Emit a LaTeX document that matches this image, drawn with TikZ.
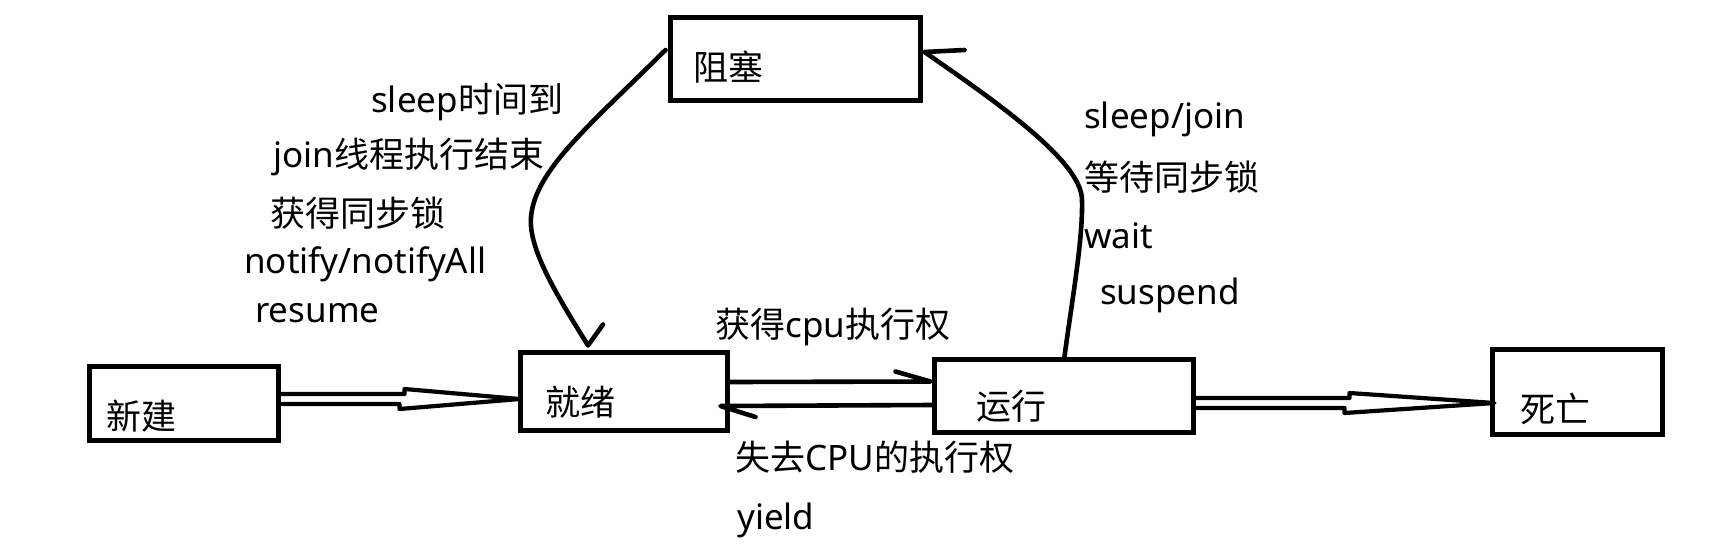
\documentclass[tikz,border=0pt]{standalone}
\usepackage{fontspec}
\setmainfont{Noto Sans}
\newfontfamily\cjk{Noto Sans CJK SC}
\newcommand\zhtxt[1]{{\cjk #1}}
\usetikzlibrary{calc}
\begin{document}
\begin{tikzpicture}[x=1pt,y=-1pt,
  box/.style={draw, line width=5pt, inner sep=0pt, rectangle},
  lbl/.style={inner sep=0pt, anchor=base west, font=\fontsize{35}{42}\selectfont},
  con/.style={line width=4.6pt, line cap=round, line join=round},
  hol/.style={line width=4.2pt, line cap=round, line join=round}]
\useasboundingbox (0,0) rectangle (1734,555);
\fill[white] (0,0) rectangle (1734,555);

% boxes
\node[box, minimum width=189pt, minimum height=74pt] (xinjian) at (183.5,403) {};
\node[box, minimum width=207pt, minimum height=78pt] (jiuxu) at (623.5,391) {};
\node[box, minimum width=259pt, minimum height=73pt] (yunxing) at (1063.5,395.5) {};
\node[box, minimum width=170pt, minimum height=85pt] (siwang) at (1577,391.5) {};
\node[box, minimum width=250pt, minimum height=83pt] (zuse) at (795,58.5) {};

% box texts
\node[lbl] (txj) at (106,429.5) {\zhtxt{新建}};
\node[lbl] (tjx) at (545,415.5) {\zhtxt{就绪}};
\node[lbl] (tyx) at (976,419.5) {\zhtxt{运行}};
\node[lbl] (tsw) at (1520,422.5) {\zhtxt{死亡}};
\node[lbl] (tzs) at (693,80.5) {\zhtxt{阻塞}};

% hollow arrows
\draw[hol] ($(xinjian.east)+(0,-9)$) -- ++(124,0) -- ++(0,-5)
  -- ($(jiuxu.west)+(2,8)$) -- ++(-120,10) -- ++(0,-5)
  -- ($(xinjian.east)+(0,1)$);
\draw[hol] ($(yunxing.east)+(0,2.5)$) -- ++(154,0) -- ++(0,-5)
  -- ($(siwang.west)+(5,11.5)$) -- ++(-150,10) -- ++(0,-5)
  -- ($(yunxing.east)+(0,12.5)$);

% ready <-> running
\coordinate (tipA) at ($(yunxing.west)+(-1,-14)$);
\draw[con] ($(jiuxu.east)+(0,-9)$) -- (tipA) -- ++(-35,-10);
\coordinate (tipB) at ($(jiuxu.east)+(-9,15)$);
\draw[con] ($(yunxing.west)+(0,9.5)$) -- (tipB) -- ++(35,11);

% blocked -> ready
\coordinate (lc0) at ($(zuse.west)+(-2,-8.5)$);
\coordinate (lcT) at ($(jiuxu.north)+(-35.5,-4)$);
\draw[con] (lc0) .. controls (590,125) and (535,170) .. (531,217)
  .. controls (528,250) and (560,300) .. (lcT) -- ++(15,-21);

% running -> blocked
\coordinate (rc0) at ($(yunxing.north)+(1,0)$);
\coordinate (rcT) at ($(zuse.east)+(2,-6.5)$);
\draw[con] (rc0) .. controls (1072,300) and (1083,240) .. (1082,200)
  .. controls (1082,160) and (989,97) .. (rcT) -- ++(40,-2);

% left labels
\node[lbl] (l1) at (371,112) {sleep\zhtxt{时间到}};
\node[lbl] (l2) at (273,167) {join\zhtxt{线程执行结束}};
\node[lbl] (l3) at (270,226) {\zhtxt{获得同步锁}};
\node[lbl] (l4) at (244,273) {notify/notifyAll};
\node[lbl] (l5) at (255,322) {resume};

% right labels
\node[lbl] (r1) at (1084,128) {sleep/join};
\node[lbl] (r2) at (1084,190) {\zhtxt{等待同步锁}};
\node[lbl] (r3) at (1084,248) {wait};
\node[lbl] (r4) at (1100,304) {suspend};

% middle labels
\node[lbl] (m1) at (715,337.5) {\zhtxt{获得}cpu\zhtxt{执行权}};
\node[lbl] (m2) at (735,470.5) {\zhtxt{失去}CPU\zhtxt{的执行权}};
\node[lbl] (m3) at (737,529) {yield};
\end{tikzpicture}
\end{document}
